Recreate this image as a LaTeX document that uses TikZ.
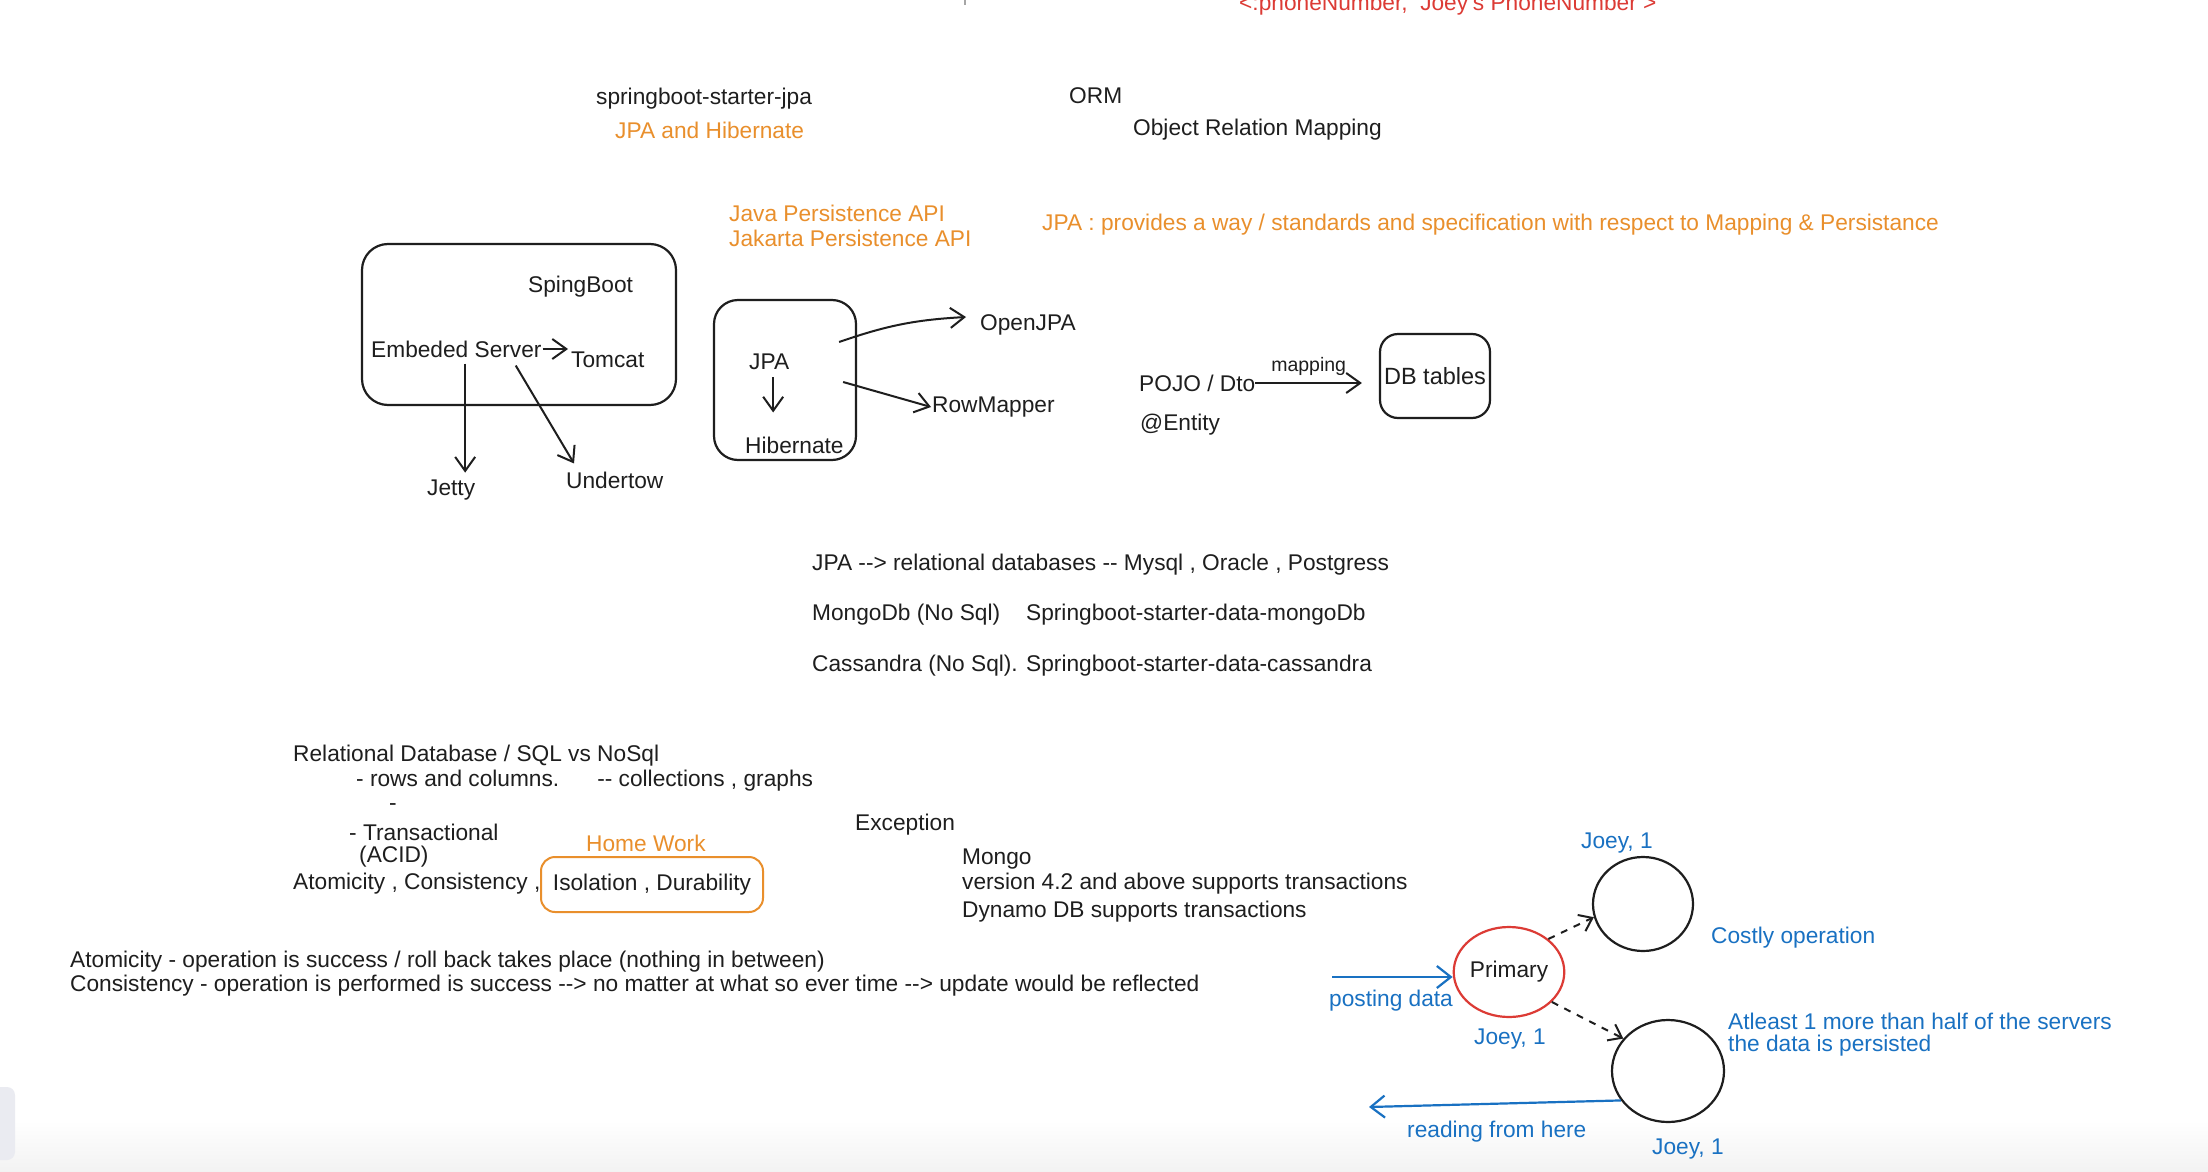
\documentclass[tikz,border=0pt]{standalone}
\usepackage{fontspec}
\setmainfont{Liberation Sans}
\usetikzlibrary{arrows.meta,shapes.geometric,calc}
\definecolor{ink}{HTML}{1E1E1E}
\definecolor{ora}{HTML}{E98F2C}
\definecolor{blu}{HTML}{1971C2}
\definecolor{redc}{HTML}{DC3B35}
\definecolor{sidegray}{HTML}{EAEBF1}
\newcommand{\basefont}{\fontsize{22.7}{26}\selectfont}
\tikzset{
  txt/.style={anchor=west, inner sep=0pt, text=ink, font=\basefont},
  otxt/.style={txt, text=ora},
  btxt/.style={txt, text=blu},
  boxed/.style={draw=ink, line width=2.2pt, rounded corners=26pt, inner sep=0pt},
  circ/.style={ellipse, draw=ink, line width=2.2pt, inner sep=0pt, text=ink, font=\basefont},
  arr/.style={draw=ink, line width=2pt, -{Straight Barb[length=14pt,width=20pt]}},
  barr/.style={draw=blu, line width=2.2pt, -{Straight Barb[length=14pt,width=22pt]}},
  darr/.style={draw=ink, line width=2pt, dash pattern=on 7pt off 7pt, -{Straight Barb[length=12pt,width=18pt]}}
}
\begin{document}
\begin{tikzpicture}[x=1pt,y=-1pt]
\useasboundingbox (0,0) rectangle (2208,1172);
\fill[white] (0,0) rectangle (2208,1172);
\shade[top color=white, bottom color=black!5] (0,1120) rectangle (2208,1172);
\fill[sidegray, rounded corners=8pt] (-12,1087) rectangle (15,1160);
\draw[black!35, line width=2pt] (965,0) -- (965,5);

% top texts
\node[txt, text=redc] (phone) at (1239,5) {<:phoneNumber,\ \ Joey's PhoneNumber >};
\node[txt] (sbjpa) at (596,99) {springboot-starter-jpa};
\node[otxt] (jh) at (615,130) {JPA and Hibernate};
\node[txt] (orm) at (1069,96) {ORM};
\node[txt] (orm2) at (1133,130) {Object Relation Mapping};
\node[otxt] (jpa1) at (729,213) {Java Persistence API};
\node[otxt] (jpa2) at (729,238) {Jakarta Persistence API};
\node[otxt] (jpadef) at (1042,225) {JPA : provides a way / standards and specification with respect to Mapping \& Persistance};

% SpringBoot box
\node[boxed, minimum width=314pt, minimum height=161pt] (sbbox) at (519,324.5) {};
\node[txt] (sb) at (528,287) {SpingBoot};
\node[txt] (es) at (371,349) {Embeded Server};
\node[txt] (tomcat) at (571,360) {Tomcat};
\node[txt] (jetty) at (427,490) {Jetty};
\node[txt] (undertow) at (566,480) {Undertow};
\draw[arr] ([xshift=1pt]es.east) -- ([xshift=-3pt]es.east -| tomcat.west);
\draw[arr] ([xshift=14pt,yshift=-6pt]es.south -| jetty.north) -- ([xshift=14pt,yshift=7pt]jetty.north);
\draw[arr] ([xshift=-26pt,yshift=-8pt]es.south east) -- ([xshift=8pt,yshift=8pt]undertow.north west);

% JPA box
\node[boxed, rounded corners=24pt, minimum width=142pt, minimum height=160pt] (jbox) at (785,380) {};
\node[txt] (jpa) at (749,362) {JPA};
\node[txt] (hib) at (745,445) {Hibernate};
\node[txt] (openjpa) at (980,325) {OpenJPA};
\node[txt] (rowm) at (932,407) {RowMapper};
\draw[arr] ([xshift=4pt,yshift=-7pt]jpa.south) -- ([xshift=4pt,yshift=24pt]jpa.south |- hib.north);
\draw[arr] ([xshift=-18pt,yshift=38pt]jbox.east) to[bend left=8] ([xshift=-14pt,yshift=8pt]openjpa.west);
\draw[arr] ([xshift=-14pt,yshift=-2pt]jbox.east) -- ([xshift=-1pt]rowm.west);

% mapping
\node[txt] (pojo) at (1139,383) {POJO / Dto};
\node[txt] (entity) at (1140,425) {@Entity};
\node[boxed, rounded corners=18pt, minimum width=110pt, minimum height=84pt, text=ink, font=\fontsize{23.5}{28}\selectfont] (db) at (1435,376) {DB tables};
\draw[arr] (pojo.east) -- node[above=6pt, inner sep=0pt, text=ink, font=\fontsize{19.5}{22}\selectfont] (maplbl) {mapping} ([xshift=-17pt]pojo.east -| db.west);

% middle lines
\node[txt] (l1) at (812,565) {JPA -{}-> relational databases -{}- Mysql , Oracle , Postgress};
\node[txt] (l2) at (812,615) {MongoDb (No Sql)\hspace{26pt}Springboot-starter-data-mongoDb};
\node[txt] (l3) at (812,666) {Cassandra (No Sql). Springboot-starter-data-cassandra};

% left block
\node[txt] (rd) at (293,756) {Relational Database / SQL vs NoSql};
\node[txt] (rows) at (356,781) {- rows and columns.\hspace{38pt}-{}- collections , graphs};
\node[txt] (dash) at (389,807) {-};
\node[txt] (trans) at (349,832) {- Transactional};
\node[txt] (acid) at (359,857) {(ACID)};
\node[txt] (acid2) at (293,884) {Atomicity , Consistency ,};
\node[draw=ora, line width=2pt, rounded corners=14pt, minimum width=222pt, minimum height=55pt, inner sep=0pt, text=ink, font=\basefont] (iso) at (652,884.5) {Isolation , Durability};
\node[otxt] (hw) at (586,843) {Home Work};

\node[txt] (exc) at (855,825) {Exception};
\node[txt] (mongo) at (962,859) {Mongo};
\node[txt] (ver) at (962,884) {version 4.2 and above supports transactions};
\node[txt] (dyn) at (962,912) {Dynamo DB supports transactions};

\node[txt] (atom) at (70,962) {Atomicity - operation is success / roll back takes place (nothing in between)};
\node[txt] (cons) at (70,986) {Consistency - operation is performed is success -{}-> no matter at what so ever time -{}-> update would be reflected};

% replication diagram
\node[btxt] (j1) at (1581,843) {Joey, 1};
\node[circ, minimum width=100pt, minimum height=94pt] (topc) at (1643,904) {};
\node[btxt] (costly) at (1711,938) {Costly operation};
\node[circ, draw=redc, minimum width=94pt, minimum height=90pt] (primary) at (1509,972) {Primary};
\coordinate (pin) at (1332,977);
\draw[barr] (pin) -- (pin -| primary.west);
\node[btxt] (post) at (1329,1001) {posting data};
\node[btxt] (j2) at (1474,1039) {Joey, 1};
\node[circ, minimum width=112pt, minimum height=102pt] (botc) at (1668,1071) {};
\node[btxt] (atl) at (1728,1021) {Atleast 1 more than half of the servers};
\node[btxt] (per) at (1728,1046) {the data is persisted};
\coordinate (rout) at (1369,1107);
\draw[barr] (botc.212) -- (rout);
\node[btxt] (read) at (1407,1132) {reading from here};
\node[btxt] (j3) at (1652,1149) {Joey, 1};
\draw[darr] (primary.40) -- (topc.195);
\draw[darr] (primary.-35) -- (botc.144);
\end{tikzpicture}
\end{document}
